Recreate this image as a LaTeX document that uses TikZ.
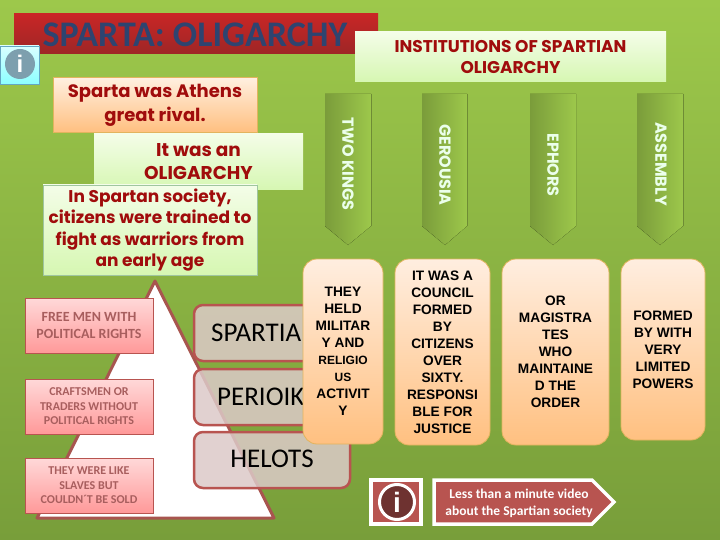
\documentclass[tikz,border=0pt]{standalone}
\usepackage{fontspec}
\setmainfont{Liberation Sans}
\newfontfamily\titlefont{Carlito}
\newfontfamily\redfont{Poppins}
\usetikzlibrary{shadings}

\definecolor{bgtop}{HTML}{9DC84B}
\definecolor{bgbottom}{HTML}{789E3A}
\definecolor{darkred}{HTML}{A00C0C}
\definecolor{brickred}{HTML}{B85450}
\definecolor{pyramidline}{HTML}{A8554F}
\definecolor{pinktext}{HTML}{A85E5E}
\definecolor{titleblue}{HTML}{2E4470}
\definecolor{greentop}{HTML}{F4FDE8}
\definecolor{greenbottom}{HTML}{D6F7B2}
\definecolor{orangetop}{HTML}{FFEEE0}
\definecolor{orangebottom}{HTML}{FFC080}
\definecolor{orangeline}{HTML}{E2B45E}

\tikzset{
	greenbox/.style={top color=greentop, bottom color=greenbottom, inner sep=0pt, align=center, text=darkred, font=\redfont\bfseries\fontsize{17}{21.5}\selectfont},
	orangebox/.style={draw=orangeline, line width=0.8pt, rounded corners=14pt, top color=orangetop, bottom color=orangebottom, inner sep=0pt, align=center, font=\bfseries\fontsize{13.7}{17}\selectfont},
	pinkbox/.style={draw=brickred, line width=0.8pt, top color=red!15, bottom color=red!40, inner sep=0pt, align=center, minimum width=128pt, minimum height=55pt, text=pinktext, font=\titlefont\bfseries\fontsize{12}{14.5}\selectfont},
	classbox/.style={draw=brickred, line width=2.5pt, rounded corners=9pt, fill={rgb,255:red,220;green,202;blue,200}, fill opacity=0.85, text opacity=1, inner sep=0pt},
	classtext/.style={font=\titlefont\fontsize{27}{30}\selectfont, inner sep=0pt},
	ribbon/.style={left color=black!22!bgtop, right color=bgtop, draw=none},
	ribbontext/.style={rotate=-90, text=white!92!green, font=\redfont\bfseries\fontsize{16}{18}\selectfont, inner sep=0pt}
}

\begin{document}
\begin{tikzpicture}[x=1pt,y=-1pt]
	\useasboundingbox (0,0) rectangle (720,540);
	\fill [top color=bgtop, bottom color=bgbottom] (0,0) rectangle (720,540);

	% title
	\fill [top color=red!75!black!85, bottom color=red!55!black!85] (14,14) rectangle (378,54);
	\node (title) [inner sep=0pt, text=titleblue, font=\titlefont\bfseries\fontsize{36}{38}\selectfont] at (195,35) {SPARTA: OLIGARCHY};
	\node (institutions) [greenbox, minimum width=311pt, minimum height=50pt, font=\redfont\bfseries\fontsize{17}{21}\selectfont] at (510.5,57) {INSTITUTIONS OF SPARTIAN\\OLIGARCHY};

	% info icon
	\fill [top color=cyan!15, bottom color=cyan!45, draw=cyan!50!gray] (0,46) rectangle (39,84);
	\node (infoicon) [circle, fill=cyan!30!gray, minimum size=30pt, inner sep=0pt, text=white, font=\bfseries\fontsize{24}{24}\selectfont] at (20,64) {i};

	% left text boxes
	\node (rival) [greenbox, top color=orange!12, bottom color=orange!50!white, draw=orangeline, minimum width=204pt, minimum height=55pt, font=\redfont\bfseries\fontsize{18}{24}\selectfont] at (155,105) {Sparta was Athens\\great rival.};
	\node (oligarchy) [greenbox, minimum width=209pt, minimum height=56pt, font=\redfont\bfseries\fontsize{18.5}{23}\selectfont] at (198.5,162) {It was an\\OLIGARCHY};
	\node (society) [greenbox, draw=green!25!gray!60, minimum width=214pt, minimum height=90pt] at (150,230) {In Spartan society,\\citizens were trained to\\fight as warriors from\\an early age};

	% ribbons
	\fill [ribbon] (325,94) -- (371,94) -- (371,226) -- (348,245) -- (325,226) -- cycle;
	\fill [ribbon] (422,94) -- (467,94) -- (467,226) -- (445,245) -- (422,226) -- cycle;
	\fill [ribbon] (530,94) -- (576,94) -- (576,226) -- (553,245) -- (530,226) -- cycle;
	\fill [ribbon] (637,94) -- (683,94) -- (683,226) -- (660,245) -- (637,226) -- cycle;
	\draw [black!30!bgtop, line width=0.5pt] (371,94) -- (371,226);
	\draw [black!30!bgtop, line width=0.5pt] (467,94) -- (467,226);
	\draw [black!30!bgtop, line width=0.5pt] (683,94) -- (683,226);
	\node (twokings) [ribbontext] at (348,164) {TWO KINGS};
	\node (gerousia) [ribbontext] at (445,165) {GEROUSIA};
	\node (ephors) [ribbontext] at (553,165) {EPHORS};
	\node (assembly) [ribbontext] at (661,164) {ASSEMBLY};

	% pyramid
	\draw [draw=pyramidline, fill=white, line width=3pt, line join=round] (155,281) -- (274,518) -- (37,518) -- cycle;
	\node (freemen) [pinkbox, font=\titlefont\bfseries\fontsize{14}{17}\selectfont] at (89,325.5) {FREE MEN WITH\\POLITICAL RIGHTS};
	\node (craftsmen) [pinkbox] at (89,406.5) {CRAFTSMEN OR\\TRADERS WITHOUT\\POLITICAL RIGHTS};
	\node (slaves) [pinkbox] at (89,485.5) {THEY WERE LIKE\\SLAVES BUT\\COULDN´T BE SOLD};

	% social classes
	\node (spartiabox) [classbox, minimum width=156pt, minimum height=56pt] at (272,333) {};
	\node (perioikbox) [classbox, minimum width=156pt, minimum height=56pt] at (272,397) {};
	\node (helotsbox) [classbox, minimum width=156pt, minimum height=56pt] at (272,460) {};
	\node (spartia) [classtext, anchor=west] at (211,333) {SPARTIA};
	\node (perioik) [classtext, anchor=west] at (217,397) {PERIOIK};
	\node (helots) [classtext] at (272,459) {HELOTS};

	% descriptions
	\node (kingstext) [orangebox, minimum width=80pt, minimum height=185pt] at (343,351.5) {THEY\\HELD\\MILITAR\\Y AND\\{\fontsize{12}{15}\selectfont RELIGIO}\\{\fontsize{12}{15}\selectfont US}\\ACTIVIT\\Y};
	\node (gerousiatext) [orangebox, minimum width=95pt, minimum height=186pt] at (442.5,352) {IT WAS A\\COUNCIL\\FORMED\\BY\\CITIZENS\\OVER\\SIXTY.\\RESPONSI\\BLE FOR\\JUSTICE};
	\node (ephorstext) [orangebox, minimum width=107pt, minimum height=186pt] at (555.5,352) {OR\\MAGISTRA\\TES\\WHO\\MAINTAINE\\D THE\\ORDER};
	\node (assemblytext) [orangebox, minimum width=84pt, minimum height=181pt] at (663,349.5) {FORMED\\BY WITH\\VERY\\LIMITED\\POWERS};

	% video link
	\fill [white] (369,478) rectangle (423,526);
	\fill [brickred] (373,482) rectangle (419,522);
	\node (videoicon) [circle, draw=white, line width=3pt, fill=brickred!60!black, minimum size=35pt, inner sep=0pt, text=white, font=\bfseries\fontsize{28}{28}\selectfont] at (397,502) {i};
	\draw [draw=white, fill=brickred, line width=3.5pt, line join=miter] (434,480) -- (592,480) -- (614,502) -- (592,524) -- (434,524) -- cycle;
	\node (video) [inner sep=0pt, align=center, text=white, font=\titlefont\bfseries\fontsize{13.5}{17}\selectfont] at (519,503) {Less than a minute video\\about the Spartian society};
\end{tikzpicture}
\end{document}
